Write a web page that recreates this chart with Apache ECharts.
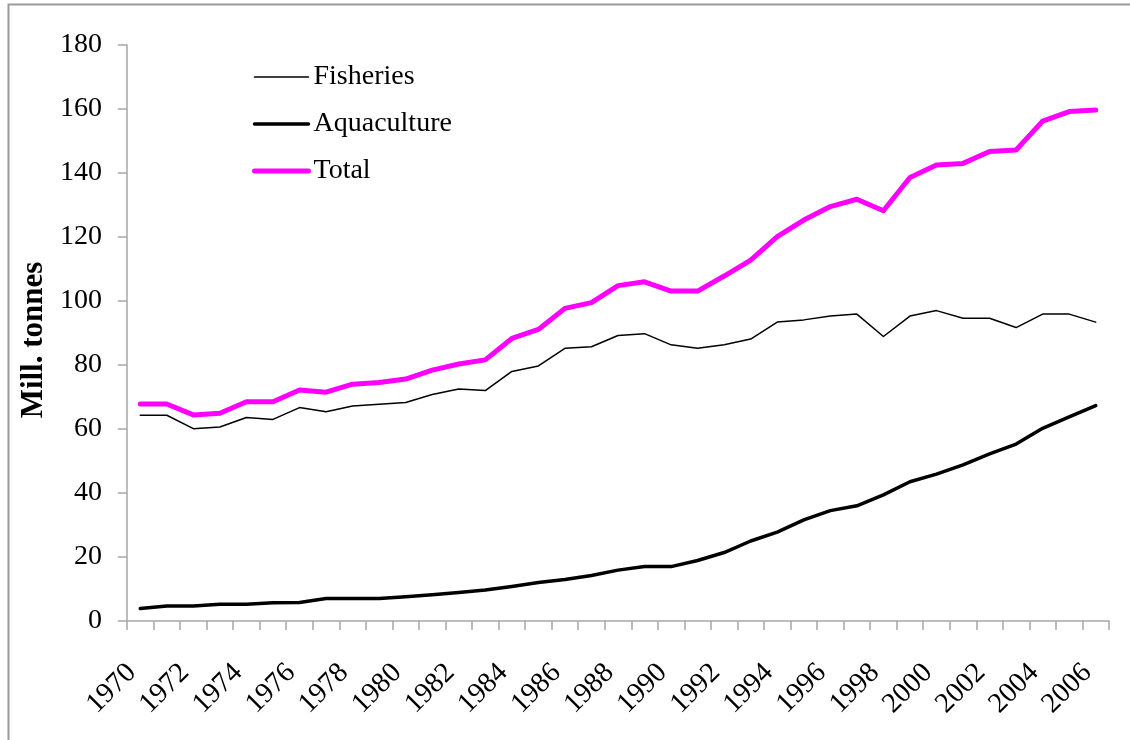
<!DOCTYPE html>
<html>
<head>
<meta charset="utf-8">
<script src="https://cdn.jsdelivr.net/npm/echarts@6/dist/echarts.min.js"></script>
<style>
html,body{margin:0;padding:0;background:#fff;}
#chart{width:1130px;height:740px;}
</style>
</head>
<body>
<div id="chart"></div>
<script>
var years = ['1970','1971','1972','1973','1974','1975','1976','1977','1978','1979',
  '1980','1981','1982','1983','1984','1985','1986','1987','1988','1989',
  '1990','1991','1992','1993','1994','1995','1996','1997','1998','1999',
  '2000','2001','2002','2003','2004','2005','2006'];
var fisheries = [64.3,64.3,60.1,60.6,63.6,63.0,66.7,65.4,67.2,67.7,
  68.3,70.8,72.5,72.0,78.0,79.7,85.2,85.7,89.2,89.8,
  86.3,85.2,86.3,88.1,93.4,94.1,95.3,95.9,88.9,95.3,
  97.0,94.6,94.6,91.7,95.9,95.9,93.4];
var aquaculture = [3.9,4.7,4.7,5.2,5.2,5.7,5.8,7.0,7.0,7.0,
  7.6,8.2,8.9,9.7,10.8,12.0,13.0,14.2,15.9,17.0,
  17.0,18.9,21.4,25.0,27.8,31.6,34.5,36.0,39.4,43.5,
  45.9,48.8,52.2,55.3,60.2,63.8,67.3];
var total = [67.8,67.8,64.4,64.9,68.5,68.5,72.2,71.5,74.0,74.5,
  75.6,78.4,80.3,81.6,88.3,91.1,97.7,99.5,104.8,106.0,
  103.1,103.1,107.8,112.8,120.1,125.3,129.5,131.8,128.2,138.6,
  142.5,143.0,146.7,147.2,156.2,159.2,159.7];
var seriesNames = ['Fisheries','Aquaculture','Total'];
var yAxisTitle = 'Mill. tonnes';

var font = '"Liberation Serif","Times New Roman",serif';
var axisGrey = '#a6a6a6';
var lineWidths = [1.5, 3.5, 5];
var lineColors = ['#000000', '#000000', '#ff00ff'];

var chart = echarts.init(document.getElementById('chart'), null, {renderer:'canvas'});
chart.setOption({
  animation:false,
  backgroundColor:'#fff',
  graphic:[{
    type:'rect', silent:true,
    shape:{x:8.5,y:4.5,width:1300,height:900},
    style:{fill:'none',stroke:'#9a9a9a',lineWidth:2}
  }],
  grid:{left:127,right:21,top:45,bottom:119,containLabel:false},
  legend:{
    orient:'vertical', left:252, top:62, padding:0,
    itemWidth:54, itemHeight:14, itemGap:17,
    itemStyle:{color:'rgba(0,0,0,0)',opacity:0,borderWidth:0},
    textStyle:{fontFamily:font,fontSize:28,color:'#000',lineHeight:30},
    data:seriesNames.map(function(n,i){
      return {name:n, lineStyle:{width:lineWidths[i],color:lineColors[i]},
        itemStyle:{color:'rgba(0,0,0,0)',opacity:0,borderWidth:0}};
    })
  },
  xAxis:{
    type:'category', data:years, boundaryGap:true,
    axisLine:{lineStyle:{color:axisGrey,width:1.5}},
    axisTick:{show:true,length:9,interval:0,lineStyle:{color:axisGrey,width:1.5}},
    axisLabel:{interval:1,rotate:45,margin:39,padding:[0,12,0,0],fontFamily:font,fontSize:28.5,color:'#000'},
    splitLine:{show:false}
  },
  yAxis:{
    type:'value', min:0, max:180, interval:20,
    name:yAxisTitle, nameLocation:'middle', nameGap:76,
    nameTextStyle:{fontFamily:font,fontSize:31,fontWeight:'bold',color:'#000',padding:[0,14,0,0]},
    axisLine:{show:true,lineStyle:{color:axisGrey,width:1.5}},
    axisTick:{show:true,length:9,lineStyle:{color:axisGrey,width:1.5}},
    axisLabel:{margin:25,fontFamily:font,fontSize:28,color:'#000'},
    splitLine:{show:false}
  },
  series:[
    {name:seriesNames[0],type:'line',data:fisheries,symbol:'none',
      lineStyle:{color:lineColors[0],width:lineWidths[0],cap:'round',join:'round'},itemStyle:{color:lineColors[0]}},
    {name:seriesNames[1],type:'line',data:aquaculture,symbol:'none',
      lineStyle:{color:lineColors[1],width:lineWidths[1],cap:'round',join:'round'},itemStyle:{color:lineColors[1]}},
    {name:seriesNames[2],type:'line',data:total,symbol:'none',
      lineStyle:{color:lineColors[2],width:lineWidths[2],cap:'round',join:'round'},itemStyle:{color:lineColors[2]}}
  ]
});
</script>
</body>
</html>
